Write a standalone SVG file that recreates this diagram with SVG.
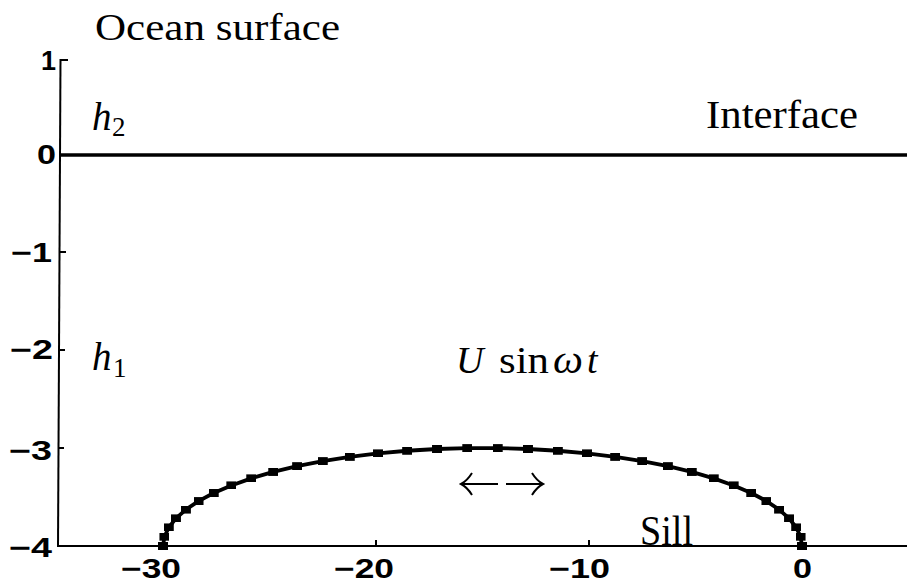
<svg xmlns="http://www.w3.org/2000/svg" width="907" height="584" viewBox="0 0 907 584">
<style>
.ax{stroke:#000;stroke-width:2;fill:none}
.tk{font-family:"Liberation Sans",Arial,sans-serif;font-weight:bold;font-size:27px;fill:#000}
.rm{font-family:"Liberation Serif","Times New Roman",serif;fill:#000}
.it{font-family:"Liberation Serif","Times New Roman",serif;font-style:italic;fill:#000}
</style>
<defs>
<marker id="sq" markerWidth="10" markerHeight="8" refX="5" refY="4" markerUnits="userSpaceOnUse" orient="0">
<rect width="10" height="8" fill="#000"/>
</marker>
</defs>
<rect width="907" height="584" fill="#fff"/>
<g id="axes">
<line class="ax" x1="60.5" y1="59" x2="58" y2="547"/>
<line class="ax" x1="57" y1="546" x2="907" y2="546"/>
<line class="ax" x1="60.5" y1="60" x2="68" y2="60"/>
<line class="ax" x1="59.5" y1="252" x2="66" y2="252"/>
<line class="ax" x1="59" y1="350" x2="65" y2="350"/>
<line class="ax" x1="58.5" y1="448" x2="64" y2="448"/>
<line class="ax" x1="376" y1="546" x2="376" y2="540"/>
<line class="ax" x1="589" y1="546" x2="589" y2="540"/>
<text class="tk" x="56" y="70" text-anchor="end">1</text>
<text class="tk" x="56" y="164" text-anchor="end" textLength="19" lengthAdjust="spacingAndGlyphs">0</text>
<text class="tk" x="52" y="262" text-anchor="end" textLength="41" lengthAdjust="spacingAndGlyphs">−1</text>
<text class="tk" x="53" y="359" text-anchor="end" textLength="43" lengthAdjust="spacingAndGlyphs">−2</text>
<text class="tk" x="52" y="460" text-anchor="end" textLength="43" lengthAdjust="spacingAndGlyphs">−3</text>
<text class="tk" x="52" y="557" text-anchor="end" textLength="43" lengthAdjust="spacingAndGlyphs">−4</text>
<text class="tk" x="121" y="578" textLength="60" lengthAdjust="spacingAndGlyphs">−30</text>
<text class="tk" x="334" y="578" textLength="60" lengthAdjust="spacingAndGlyphs">−20</text>
<text class="tk" x="549" y="578" textLength="61" lengthAdjust="spacingAndGlyphs">−10</text>
<text class="tk" x="793" y="578" textLength="19" lengthAdjust="spacingAndGlyphs">0</text>
</g>
<g id="interface">
<line x1="60" y1="155" x2="907" y2="155" stroke="#000" stroke-width="3.5"/>
<text class="rm" x="706" y="128" font-size="39" textLength="152" lengthAdjust="spacingAndGlyphs">Interface</text>
</g>
<g id="ocean-surface">
<text class="rm" x="95" y="40" font-size="38" textLength="245" lengthAdjust="spacingAndGlyphs">Ocean surface</text>
</g>
<g id="h2">
<text class="it" x="92" y="130" font-size="39">h</text>
<text class="rm" x="112" y="136" font-size="27">2</text>
</g>
<g id="h1">
<text class="it" x="92" y="370" font-size="39">h</text>
<text class="rm" x="113" y="377" font-size="27">1</text>
</g>
<g id="forcing">
<text class="it" x="456" y="373" font-size="38">U</text>
<text class="rm" x="499" y="373" font-size="38" textLength="50" lengthAdjust="spacingAndGlyphs">sin</text>
<text class="it" x="553" y="373" font-size="40" textLength="30" lengthAdjust="spacingAndGlyphs">ω</text>
<text class="it" x="587" y="373" font-size="38">t</text>
<path d="M498,484 H462 M472,473 Q467,481 461,484 Q467,487 472,495 M506,484 H542 M532,473 Q537,481 543,484 Q537,487 532,495" fill="none" stroke="#000" stroke-width="2"/>
</g>
<g id="sill">
<polyline fill="none" stroke="#000" stroke-width="3.8" stroke-linejoin="round" marker-start="url(#sq)" marker-mid="url(#sq)" marker-end="url(#sq)" points="163,546 164.45,536.68 168.77,527.45 175.94,518.39 185.89,509.58 198.52,501.09 213.72,493.02 231.36,485.42 251.27,478.37 273.27,471.94 297.15,466.17 322.75,461.13 349.77,456.86 378,453.39 407.18,450.76 437.03,449 467.3,448.11 497.7,448.11 527.97,449 557.82,450.76 587,453.39 615.23,456.86 642.25,461.13 667.85,466.17 691.73,471.94 713.73,478.37 733.64,485.42 751.28,493.02 766.48,501.09 779.11,509.58 789.06,518.39 796.23,527.45 800.55,536.68 802,546"/>
<text class="rm" x="640" y="545" font-size="43" textLength="53" lengthAdjust="spacingAndGlyphs">Sill</text>
</g>
</svg>
